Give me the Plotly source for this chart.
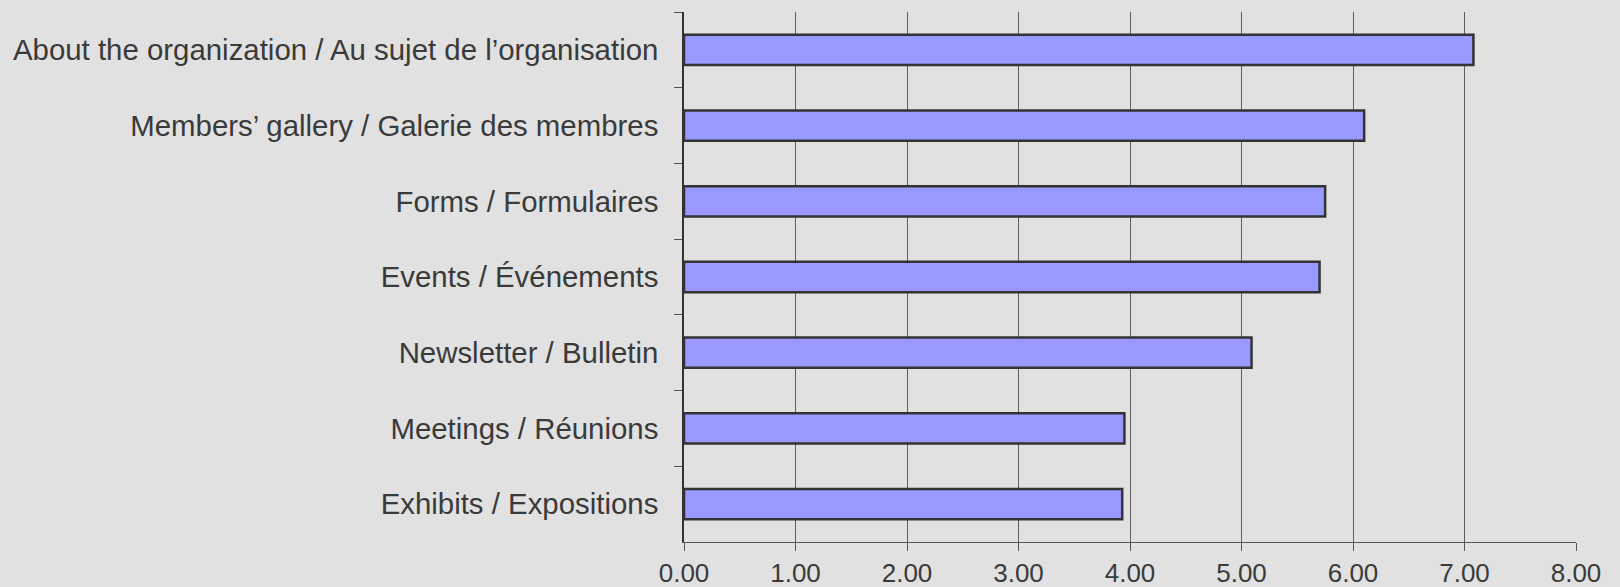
import plotly.graph_objects as go

categories = [
    "About the organization / Au sujet de l\u2019organisation",
    "Members\u2019 gallery / Galerie des membres",
    "Forms / Formulaires",
    "Events / \u00c9v\u00e9nements",
    "Newsletter / Bulletin",
    "Meetings / R\u00e9unions",
    "Exhibits / Expositions",
]
values = [7.08, 6.10, 5.75, 5.70, 5.09, 3.95, 3.93]
x_ticks = [0, 1, 2, 3, 4, 5, 6, 7, 8]
x_tick_labels = ["0.00", "1.00", "2.00", "3.00", "4.00", "5.00", "6.00", "7.00", "8.00"]

fig = go.Figure(
    go.Bar(
        x=values,
        y=categories,
        orientation="h",
        marker=dict(color="#9999ff", line=dict(color="#333333", width=2.5)),
        hoverinfo="x+y",
    )
)

fig.update_layout(
    width=1620,
    height=587,
    margin=dict(l=684, r=44, t=12, b=45),
    paper_bgcolor="#e1e1e1",
    plot_bgcolor="#e1e1e1",
    bargap=0.6,
    showlegend=False,
    font=dict(family="Liberation Sans, Arial, sans-serif", color="#3a3a3a"),
)

fig.update_xaxes(
    range=[0, 8],
    tickvals=x_ticks,
    ticktext=x_tick_labels,
    showgrid=True,
    gridcolor="#5e5e5e",
    gridwidth=1,
    zeroline=False,
    showline=True,
    linecolor="#555555",
    linewidth=1,
    ticks="outside",
    ticklen=8,
    tickcolor="#555555",
    tickfont=dict(size=26, color="#3a3a3a"),
    ticklabelstandoff=0,
    automargin=False,
)

fig.update_yaxes(
    autorange="reversed",
    type="category",
    tickson="boundaries",
    ticks="outside",
    ticklen=8,
    tickcolor="#555555",
    showline=True,
    linecolor="#333333",
    linewidth=1.5,
    showgrid=False,
    tickfont=dict(size=29.4, color="#3a3a3a"),
    ticklabelstandoff=18,
    automargin=False,
)

fig.write_html(
    "out.html",
    config={"displayModeBar": False},
    post_script="document.body.style.margin='0';document.body.style.padding='0';document.body.style.background='#e1e1e1';",
)
